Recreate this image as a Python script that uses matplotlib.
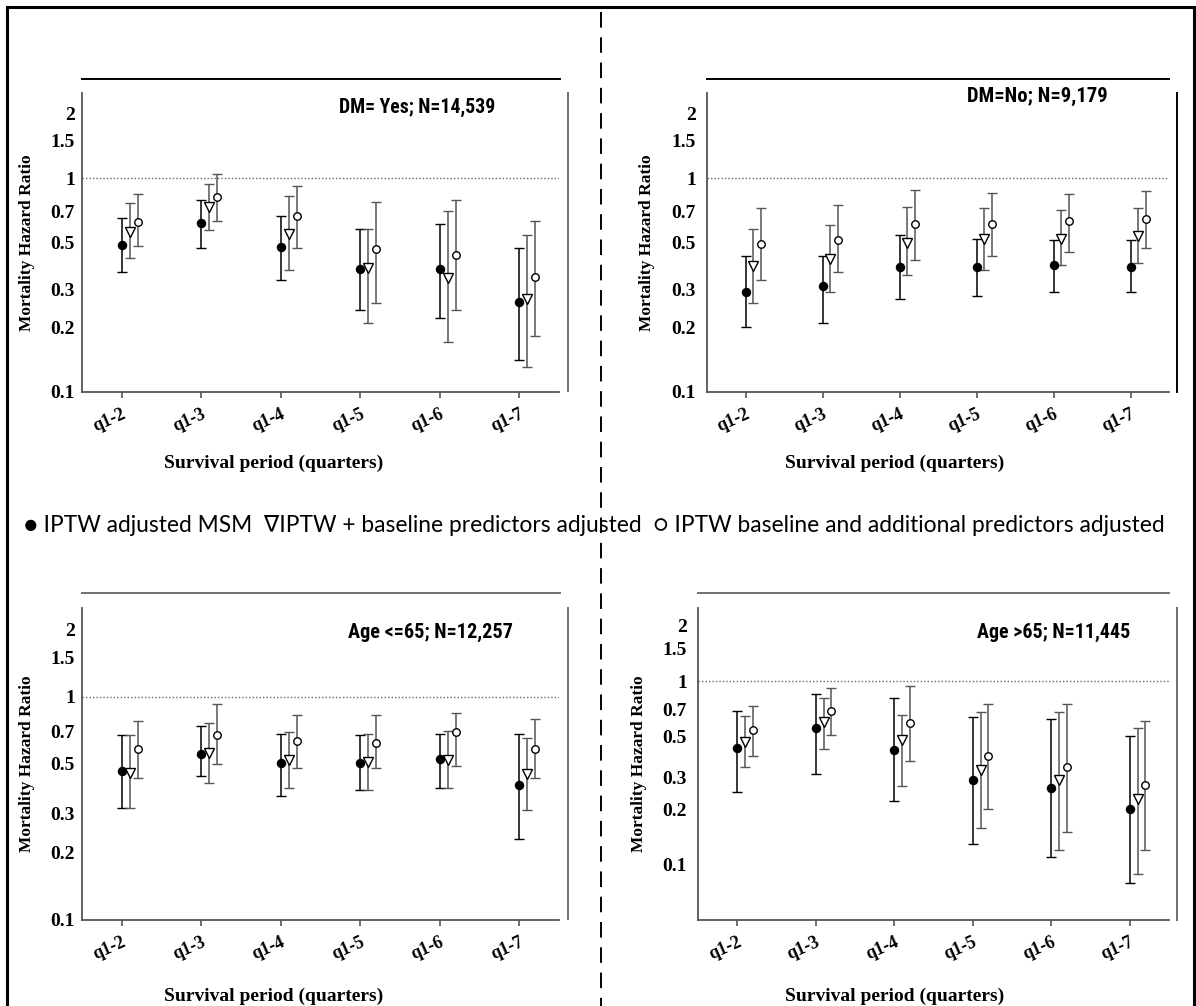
import matplotlib
matplotlib.use("Agg")
import matplotlib.pyplot as plt
from matplotlib.lines import Line2D
from matplotlib.patches import Rectangle
from matplotlib import font_manager
import numpy as np
import os

W, H = 1196, 1006

periods = ["q1-2", "q1-3", "q1-4", "q1-5", "q1-6", "q1-7"]
yticks = [0.1, 0.2, 0.3, 0.5, 0.7, 1, 1.5, 2]
ytick_labels = ["0.1", "0.2", "0.3", "0.5", "0.7", "1", "1.5", "2"]

# DM = Yes
dmy_msm = [0.487, 0.615, 0.475, 0.374, 0.374, 0.263]
dmy_msm_lo = [0.363, 0.473, 0.333, 0.241, 0.221, 0.141]
dmy_msm_hi = [0.654, 0.791, 0.663, 0.581, 0.613, 0.471]
dmy_base = [0.562, 0.729, 0.548, 0.381, 0.342, 0.271]
dmy_base_lo = [0.422, 0.573, 0.372, 0.211, 0.171, 0.131]
dmy_base_hi = [0.763, 0.940, 0.829, 0.581, 0.700, 0.542]
dmy_add = [0.624, 0.818, 0.666, 0.465, 0.436, 0.344]
dmy_add_lo = [0.482, 0.633, 0.473, 0.261, 0.241, 0.182]
dmy_add_hi = [0.841, 1.050, 0.921, 0.772, 0.791, 0.631]

# DM = No
dmn_msm = [0.294, 0.313, 0.384, 0.384, 0.394, 0.384]
dmn_msm_lo = [0.202, 0.211, 0.272, 0.282, 0.292, 0.292]
dmn_msm_hi = [0.431, 0.431, 0.542, 0.521, 0.512, 0.512]
dmn_base = [0.388, 0.417, 0.497, 0.520, 0.520, 0.539]
dmn_base_lo = [0.261, 0.292, 0.351, 0.372, 0.391, 0.402]
dmn_base_hi = [0.581, 0.602, 0.734, 0.723, 0.713, 0.723]
dmn_add = [0.494, 0.514, 0.607, 0.607, 0.627, 0.645]
dmn_add_lo = [0.333, 0.363, 0.413, 0.433, 0.452, 0.471]
dmn_add_hi = [0.723, 0.745, 0.882, 0.851, 0.841, 0.872]

# Age <= 65
young_msm = [0.465, 0.554, 0.505, 0.505, 0.524, 0.404]
young_msm_lo = [0.319, 0.441, 0.360, 0.381, 0.390, 0.230]
young_msm_hi = [0.671, 0.742, 0.680, 0.671, 0.680, 0.680]
young_base = [0.458, 0.558, 0.519, 0.508, 0.520, 0.450]
young_base_lo = [0.319, 0.412, 0.390, 0.381, 0.390, 0.311]
young_base_hi = [0.671, 0.760, 0.693, 0.680, 0.700, 0.651]
young_add = [0.585, 0.674, 0.633, 0.624, 0.695, 0.585]
young_add_lo = [0.431, 0.501, 0.481, 0.481, 0.491, 0.431]
young_add_hi = [0.781, 0.924, 0.831, 0.831, 0.842, 0.792]

# Age > 65
old_msm = [0.433, 0.554, 0.424, 0.291, 0.262, 0.201]
old_msm_lo = [0.250, 0.311, 0.221, 0.130, 0.110, 0.080]
old_msm_hi = [0.689, 0.846, 0.804, 0.634, 0.621, 0.501]
old_base = [0.467, 0.600, 0.477, 0.327, 0.288, 0.228]
old_base_lo = [0.340, 0.429, 0.270, 0.159, 0.120, 0.089]
old_base_hi = [0.642, 0.811, 0.650, 0.680, 0.680, 0.552]
old_add = [0.543, 0.686, 0.593, 0.392, 0.342, 0.272]
old_add_lo = [0.390, 0.510, 0.369, 0.200, 0.150, 0.120]
old_add_hi = [0.731, 0.920, 0.939, 0.749, 0.749, 0.608]

titles = ["DM= Yes; N=14,539", "DM=No; N=9,179", "Age <=65; N=12,257", "Age >65; N=11,445"]
legend_text = "\u25CF IPTW adjusted MSM  \u2207IPTW + baseline predictors adjusted  \u25CB IPTW baseline and additional predictors adjusted"

serif = ["Liberation Serif", "DejaVu Serif"]
sans = ["Lato", "DejaVu Sans"]


def find_font(keys):
    files = [f.fname for f in font_manager.fontManager.ttflist]
    for key in keys:
        for fn in files:
            if os.path.basename(fn).lower().replace("_", "").replace(" ", "") == key.lower():
                return fn
    return None


cond_bold = find_font(["LiberationSansNarrow-Bold.ttf", "RobotoCondensed-Bold.ttf",
                       "DejaVuSansCondensed-Bold.ttf", "OpenSansCondensed-Bold.ttf"])


def title_props(size):
    if cond_bold:
        return font_manager.FontProperties(fname=cond_bold, size=size)
    return font_manager.FontProperties(family=sans, weight="bold", size=size)


fig = plt.figure(figsize=(W / 100, H / 100), dpi=100)


def fx(x):
    return x / W


def fy(y):
    return 1 - y / H


def fline(x0, y0, x1, y1, **kw):
    fig.add_artist(Line2D([fx(x0), fx(x1)], [fy(y0), fy(y1)], transform=fig.transFigure, **kw))


def fit_width(txt, target, base):
    fig.canvas.draw()
    w = txt.get_window_extent(renderer=fig.canvas.get_renderer()).width
    txt.set_fontsize(base * target / w)


# outer border and dashed divider
fig.add_artist(Rectangle((fx(7), fy(1010)), fx(1194) - fx(7), fy(7) - fy(1010),
                         transform=fig.transFigure, fill=False, lw=2.2, ec="black"))
fline(601, 12, 601, 1006, color="black", lw=1.4, ls=(0, (8, 5)))

panels = [
    dict(box=(82, 93, 559, 392), ylim=(0.1, 2.5), title=titles[0], tbox=(339, 496, 107),
         data=[(dmy_msm, dmy_msm_lo, dmy_msm_hi), (dmy_base, dmy_base_lo, dmy_base_hi), (dmy_add, dmy_add_lo, dmy_add_hi)],
         topline=(82, 560, 79, "black"), rline=(568, 93, 391, "#707070"), ylab=27, xlab=(274, 463), pad=5),
    dict(box=(707, 93, 1169, 392), ylim=(0.1, 2.5), title=titles[1], tbox=(967, 1108, 96),
         data=[(dmn_msm, dmn_msm_lo, dmn_msm_hi), (dmn_base, dmn_base_lo, dmn_base_hi), (dmn_add, dmn_add_lo, dmn_add_hi)],
         topline=(707, 1169, 79, "black"), rline=(1177, 93, 392, "black"), ylab=647, xlab=(895, 463), pad=8),
    dict(box=(82, 608, 559, 920), ylim=(0.1, 2.5), title=titles[2], tbox=(348, 513, 632),
         data=[(young_msm, young_msm_lo, young_msm_hi), (young_base, young_base_lo, young_base_hi), (young_add, young_add_lo, young_add_hi)],
         topline=(82, 560, 593, "#707070"), rline=(568, 608, 919, "#707070"), ylab=27, xlab=(274, 996), pad=5),
    dict(box=(698, 608, 1169, 920), ylim=(0.05, 2.5), title=titles[3], tbox=(977, 1130, 632),
         data=[(old_msm, old_msm_lo, old_msm_hi), (old_base, old_base_lo, old_base_hi), (old_add, old_add_lo, old_add_hi)],
         topline=(698, 1169, 593, "#707070"), rline=(1177, 608, 920, "#707070"), ylab=639, xlab=(895, 996), pad=8),
]

styles = [
    dict(marker="o", mfc="black", mec="black", ms=5.8, ecolor="black", offset=0.0),
    dict(marker="v", mfc="white", mec="black", ms=6.8, ecolor="#555555", offset=0.1),
    dict(marker="o", mfc="white", mec="black", ms=5.4, ecolor="#555555", offset=0.2),
]

x = np.arange(1, len(periods) + 1)
title_texts = []

for p in panels:
    x0, y0, x1, y1 = p["box"]
    ax = fig.add_axes([fx(x0), fy(y1), fx(x1) - fx(x0), fy(y0) - fy(y1)])
    ax.set_yscale("log")
    ax.set_ylim(*p["ylim"])
    ax.set_xlim(0.5, 6.5)
    ax.axhline(1, color="#666666", lw=1, ls=(0, (1, 1.5)), zorder=1)
    for (vals, lo, hi), st in zip(p["data"], styles):
        vals = np.array(vals)
        err = np.vstack([vals - np.array(lo), np.array(hi) - vals])
        ax.errorbar(x + st["offset"], vals, yerr=err, fmt=st["marker"], mfc=st["mfc"], mec=st["mec"],
                    ms=st["ms"], mew=1.0, ecolor=st["ecolor"], elinewidth=1.1, capsize=3.5, capthick=1.1,
                    zorder=3)
    for s in ["top", "right"]:
        ax.spines[s].set_visible(False)
    for s in ["left", "bottom"]:
        ax.spines[s].set_color("#555555")
        ax.spines[s].set_linewidth(1.3)
    ax.set_yticks(yticks)
    ax.set_yticklabels(ytick_labels, fontfamily=serif, fontweight="bold", fontsize=14)
    ax.yaxis.set_minor_locator(matplotlib.ticker.NullLocator())
    ax.tick_params(axis="y", length=0, pad=p["pad"])
    ax.set_xticks(x)
    ax.set_xticklabels(periods, fontfamily=serif, fontweight="bold", fontsize=13,
                       rotation=24, ha="right", rotation_mode="anchor")
    ax.tick_params(axis="x", length=4, width=1.2, color="#555555", direction="out", pad=6)
    ax.patch.set_alpha(0)

    tlx0, tlx1, tly, tlc = p["topline"]
    fline(tlx0, tly, tlx1, tly, color=tlc, lw=1.4)
    rx, ry0, ry1, rc = p["rline"]
    fline(rx, ry0, rx, ry1, color=rc, lw=1.4)

    tx0, tx1, ty = p["tbox"]
    t = fig.text(fx((tx0 + tx1) / 2), fy(ty), p["title"], fontproperties=title_props(14),
                 ha="center", va="center")
    title_texts.append((t, tx1 - tx0))
    fig.text(fx(p["ylab"]), fy((y0 + y1) / 2), "Mortality Hazard Ratio", family=serif,
             fontweight="bold", fontsize=12.5, rotation=90, ha="center", va="center")
    fig.text(fx(p["xlab"][0]), fy(p["xlab"][1]), "Survival period (quarters)", family=serif,
             fontweight="bold", fontsize=14, ha="center", va="center")

for t, wt in title_texts:
    fit_width(t, wt, 14)

# legend line, sized to span the measured width of the reference legend
leg_x0, leg_x1 = 24, 1166
leg = fig.text(fx(leg_x0), fy(526), legend_text, family=sans, fontsize=14, ha="left", va="center")
fit_width(leg, leg_x1 - leg_x0, 14)

fig.savefig("out.png", dpi=100)
